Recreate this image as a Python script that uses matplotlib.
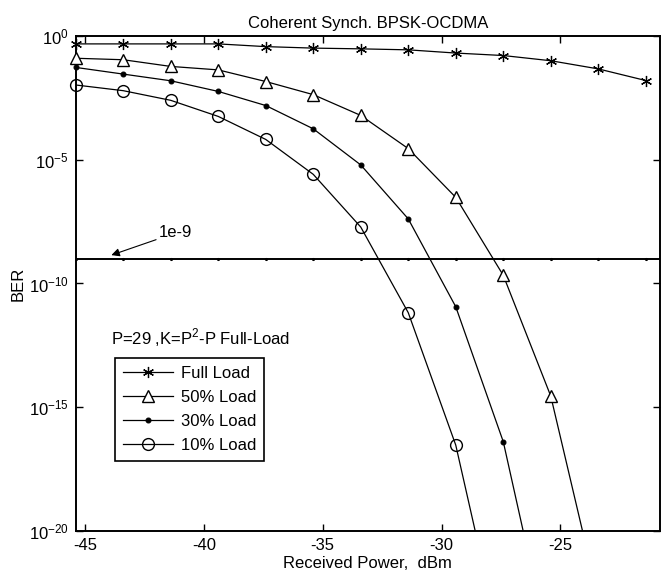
import numpy as np
import matplotlib.pyplot as plt
from matplotlib.lines import Line2D

# received power (dBm), one point every 2 dB
power = [-45.4, -43.4, -41.4, -39.4, -37.4, -35.4, -33.4, -31.4, -29.4,
         -27.4, -25.4, -23.4, -21.4]
threshold_power = power + [-19.4]

# BER, stored as -log10(BER)
full_load = [0.32, 0.32, 0.32, 0.32, 0.43, 0.49, 0.52, 0.56, 0.69, 0.79, 1.00, 1.33, 1.80]
load_50 = [0.90, 0.96, 1.23, 1.37, 1.84, 2.37, 3.21, 4.55, 6.52, 9.67, 14.55, 22.7]
load_30 = [1.27, 1.54, 1.81, 2.24, 2.81, 3.75, 5.21, 7.39, 10.94, 16.39, 25.0]
load_10 = [1.98, 2.21, 2.60, 3.25, 4.18, 5.59, 7.72, 11.18, 16.53, 25.0]

labels = ['Full Load', '50% Load', '30% Load', '10% Load']
ber_limit = 1e-9

plt.rcParams['font.family'] = ['Liberation Sans', 'DejaVu Sans']
plt.rcParams['font.size'] = 12
plt.rcParams['axes.unicode_minus'] = False
plt.rcParams['mathtext.fontset'] = 'custom'
plt.rcParams['mathtext.rm'] = 'Liberation Sans'

fig = plt.figure(figsize=(6.62, 5.86), dpi=100)
ax = fig.add_axes([0.1144, 0.0939, 0.8826, 0.8447])

asterisk = (6, 2, 0)
styles = [
    dict(marker=asterisk, ms=8, mfc='none', mew=0.9),
    dict(marker='^', ms=9, mfc='white', mew=1.0),
    dict(marker='o', ms=3.5, mfc='black', mew=0.8),
    dict(marker='o', ms=8.5, mfc='none', mew=1.0),
]

handles = []
for vals, lab, st in zip([full_load, load_50, load_30, load_10], labels, styles):
    x = np.array(power[:len(vals)])
    y = 10.0 ** (-np.array(vals))
    # line is clipped at the axes, markers are not (like MATLAB)
    ax.plot(x, y, color='black', lw=0.9)
    inside = y >= 1e-20
    ax.plot(x[inside], y[inside], ls='none', color='black', clip_on=False, zorder=3, **st)
    handles.append(Line2D([], [], color='black', lw=0.9, label=lab, **st))

# 1e-9 reference line
ax.plot(threshold_power, [ber_limit] * len(threshold_power), color='black', lw=1.4,
        marker='.', ms=2.5)

ax.set_yscale('log')
ax.set_xlim(-45.4, -20.8)
ax.set_ylim(1e-20, 1e0)
ax.set_xticks([-45, -40, -35, -30, -25])
ax.set_yticks([1e0, 1e-5, 1e-10, 1e-15, 1e-20])
ax.minorticks_off()
ax.tick_params(direction='in', length=5, width=1, top=True, right=True, pad=5,
               labelsize=12)
for sp in ax.spines.values():
    sp.set_linewidth(1.4)

ax.set_title('Coherent Synch. BPSK-OCDMA', fontsize=12, pad=6)
ax.set_xlabel('Received Power,  dBm', fontsize=12, labelpad=2)
ax.set_ylabel('BER', fontsize=12, labelpad=2)

ax.annotate('1e-9', xy=(-43.9, 1.4e-9), xytext=(-41.9, 1.1e-8),
            ha='left', va='center', fontsize=12,
            arrowprops=dict(arrowstyle='-|>', color='black', lw=0.8,
                            shrinkA=0, shrinkB=0, mutation_scale=12))

ax.text(-43.9, 10 ** -12.2, 'P=29 ,K=P$^{2}$-P Full-Load', ha='left', va='center',
        fontsize=12)

leg = ax.legend(handles=handles, loc='upper left', bbox_to_anchor=(0.068, 0.349),
                borderaxespad=0, fancybox=False, edgecolor='black', framealpha=1,
                handlelength=3.0, handletextpad=0.5, labelspacing=0.55,
                borderpad=0.45, fontsize=12)
leg.get_frame().set_linewidth(1.2)

fig.savefig('out.png', dpi=100)
